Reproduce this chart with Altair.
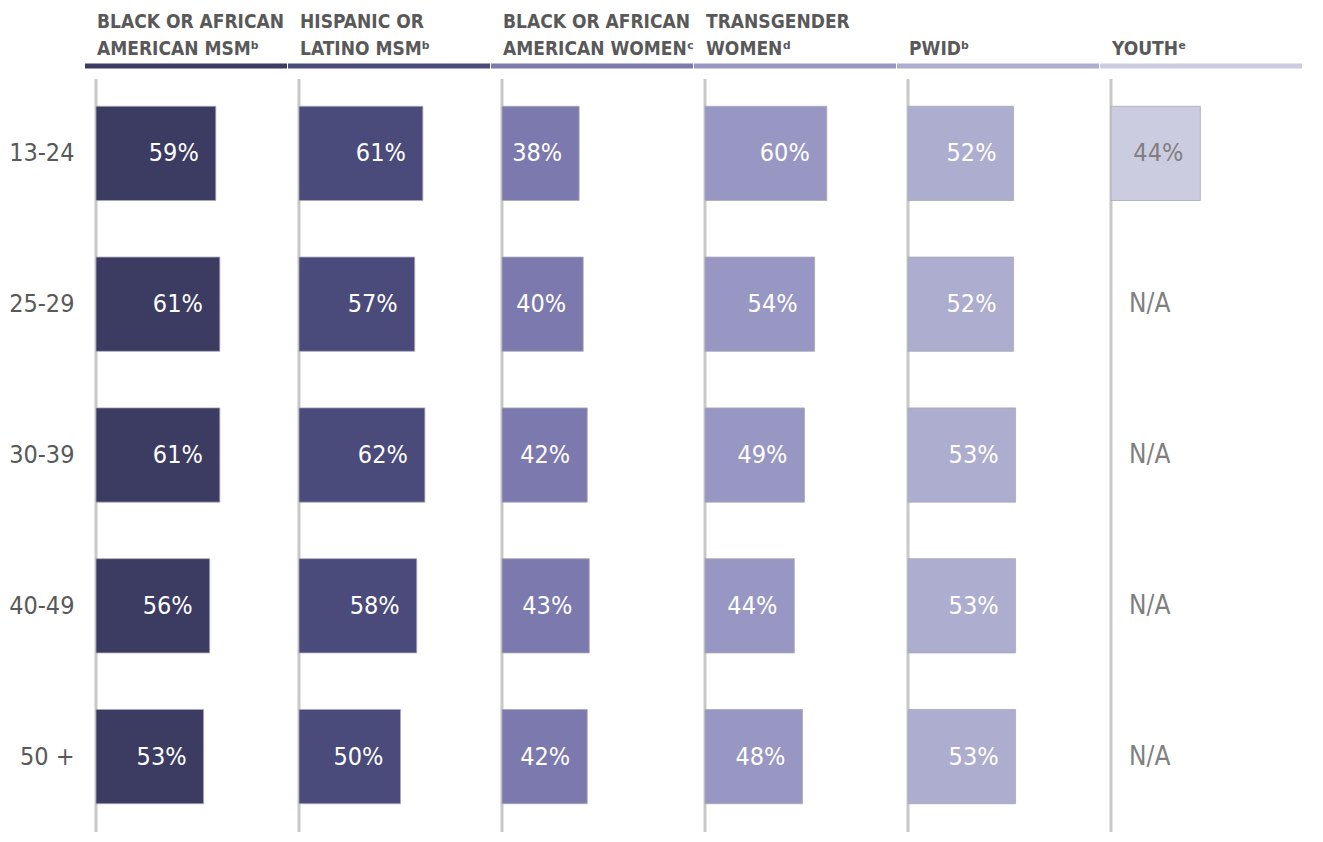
import altair as alt
import pandas as pd

groups = [
    "BLACK OR AFRICAN|AMERICAN MSMᵇ",
    "HISPANIC OR|LATINO MSMᵇ",
    "BLACK OR AFRICAN|AMERICAN WOMENᶜ",
    "TRANSGENDER|WOMENᵈ",
    "|PWIDᵇ",
    "|YOUTHᵉ",
]
ages = ["13-24", "25-29", "30-39", "40-49", "50 +"]

black_msm = [59, 61, 61, 56, 53]
hispanic_msm = [61, 57, 62, 58, 50]
black_women = [38, 40, 42, 43, 42]
transgender_women = [60, 54, 49, 44, 48]
pwid = [52, 52, 53, 53, 53]
youth = [44, None, None, None, None]

series = [black_msm, hispanic_msm, black_women, transgender_women, pwid, youth]
colors = ["#3c3b61", "#4a4a7b", "#7b79ae", "#9897c3", "#adadcf", "#cccce1"]

rows = []
for g, vals in zip(groups, series):
    for a, v in zip(ages, vals):
        rows.append({
            "group": g,
            "age": a,
            "value": v,
            "label": f"{v}%" if v is not None else "N/A",
        })
df = pd.DataFrame(rows)

FONT = "DejaVu Sans Condensed, Liberation Sans Narrow, sans-serif"
W = 203
H = 754

color_scale = alt.Scale(domain=groups, range=colors)
y_scale = alt.Scale(domain=ages, paddingInner=0.375, paddingOuter=0.1875)
y_axis = alt.Axis(title=None, domain=False, ticks=False, labelFontSize=25,
                  labelColor="#595959", labelFont=FONT, labelPadding=22,
                  minExtent=82, maxExtent=82)
Y = alt.Y("age:N", sort=ages, scale=y_scale, axis=y_axis)
X = alt.X("value:Q", scale=alt.Scale(domain=[0, 100]), axis=None)

first_row = alt.datum.age == ages[0]

vrule = alt.Chart().mark_rule(color="#c8c8c8", strokeWidth=3).encode(
    x=alt.value(0), y=alt.value(1), y2=alt.value(H)
).transform_filter(first_row)

header_bar = alt.Chart().mark_rule(strokeWidth=5).encode(
    x=alt.value(-11), x2=alt.value(W - 12), y=alt.value(-12),
    color=alt.Color("group:N", scale=color_scale, legend=None),
).transform_filter(first_row)

header_text = alt.Chart().mark_text(
    align="left", baseline="alphabetic", lineHeight=27,
    font=FONT, fontSize=19, fontWeight="bold", color="#595959",
).encode(
    x=alt.value(1), y=alt.value(-50), text="hdr:N",
).transform_filter(first_row).transform_calculate(hdr="split(datum.group, '|')")

bars = alt.Chart().mark_bar(stroke="#a8a8b8", strokeWidth=0.8).encode(
    x=X, y=Y,
    color=alt.Color("group:N", scale=color_scale, legend=None),
).transform_filter("isValid(datum.value)")

labels = alt.Chart().mark_text(align="right", baseline="middle", dx=-17,
                               font=FONT, fontSize=25).encode(
    x=X, y=Y, text="label:N",
    color=alt.condition(alt.datum.group == "|YOUTHᵉ", alt.value("#7f7f7f"), alt.value("white")),
).transform_filter("isValid(datum.value)")

na_text = alt.Chart().mark_text(align="left", baseline="middle", dx=18,
                                font=FONT, fontSize=26, color="#7f7f7f").encode(
    x=alt.value(0), y=Y, text="label:N",
).transform_filter("!isValid(datum.value)")

layered = alt.layer(vrule, header_bar, header_text, bars, labels, na_text, data=df).properties(
    width=W, height=H
)

chart = layered.facet(
    column=alt.Column("group:N", sort=groups, header=alt.Header(title=None, labels=False)),
    spacing=0,
    bounds="flush",
).properties(
    padding={"left": 0, "top": 5, "right": 0, "bottom": 0}
).configure_view(stroke=None).configure_axis(grid=False)

chart.save("out.html", embed_options={"renderer": "svg", "actions": False})
